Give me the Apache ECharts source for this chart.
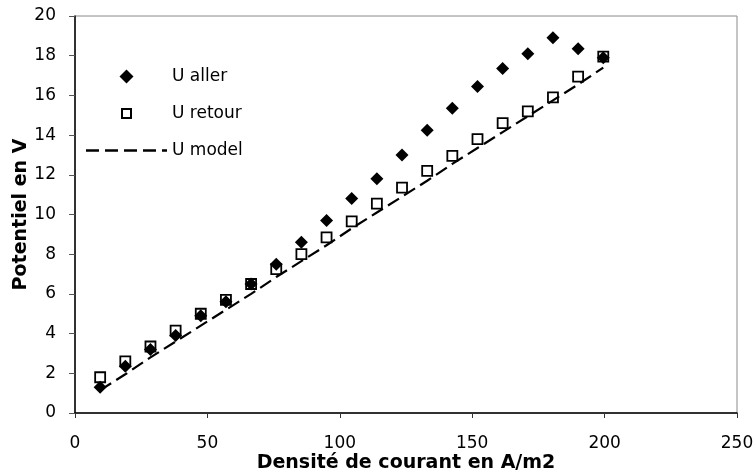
<!DOCTYPE html>
<html>
<head>
<meta charset="utf-8">
<script src="https://cdn.jsdelivr.net/npm/echarts@6/dist/echarts.min.js"></script>
<style>
  html, body { margin: 0; padding: 0; background: #fff; }
  #chart { width: 754px; height: 474px; }
</style>
</head>
<body>
<div id="chart"></div>
<script>
// Current density (A/m2)
const density = [9.5, 19, 28.5, 38, 47.5, 57, 66.5, 76, 85.5, 95, 104.5, 114, 123.5, 133, 142.5, 152, 161.5, 171, 180.5, 190, 199.5];
// Measured potential, increasing current (V)
const uAller = [1.3, 2.35, 3.2, 3.9, 4.9, 5.6, 6.5, 7.5, 8.6, 9.7, 10.8, 11.8, 13.0, 14.25, 15.35, 16.45, 17.35, 18.1, 18.9, 18.35, 17.9];
// Measured potential, decreasing current (V)
const uRetour = [1.8, 2.6, 3.35, 4.15, 5.0, 5.7, 6.5, 7.25, 8.0, 8.85, 9.65, 10.55, 11.35, 12.2, 12.95, 13.8, 14.6, 15.2, 15.9, 16.95, 17.95];
// Model potential (V)
const uModel = [1.15, 1.95, 2.8, 3.6, 4.4, 5.2, 6.0, 6.85, 7.65, 8.45, 9.3, 10.1, 10.9, 11.7, 12.55, 13.35, 14.15, 14.95, 15.75, 16.55, 17.4];

const seriesNames = ['U aller', 'U retour', 'U model'];
const xTitle = 'Densité de courant en A/m2';
const yTitle = 'Potentiel en V';

const pairs = (xs, ys) => xs.map((x, i) => [x, ys[i]]);
const FONT = 'DejaVu Sans';

// Legend icons, padded inside their boxes so they keep their own size
const ICON_DIAMOND = 'path://M0,7 L7,0 L14,7 L7,14 Z';
const ICON_SQUARE = 'path://M0,0 L0,0 M14,14 L14,14 M2.5,2.5 L11.5,2.5 L11.5,11.5 L2.5,11.5 Z';
const ICON_DASH = 'path://M0,0 L13,0 L13,2.5 L0,2.5 Z M19,0 L32,0 L32,2.5 L19,2.5 Z M38,0 L51,0 L51,2.5 L38,2.5 Z M57,0 L70,0 L70,2.5 L57,2.5 Z M76,0 L81,0 L81,2.5 L76,2.5 Z';

const chart = echarts.init(document.getElementById('chart'));
chart.setOption({
  animation: false,
  backgroundColor: '#fff',
  grid: {
    left: 75, right: 17, top: 16, bottom: 61,
    containLabel: false, outerBoundsMode: 'none',
    show: true, borderColor: '#8a8a8a', borderWidth: 1
  },
  legend: {
    orient: 'vertical',
    left: 81, top: 63,
    itemWidth: 81, itemHeight: 14, itemGap: 20,
    symbolKeepAspect: true,
    textStyle: { fontFamily: FONT, fontSize: 17, color: '#000' },
    data: [
      { name: seriesNames[0], icon: ICON_DIAMOND },
      { name: seriesNames[1], icon: ICON_SQUARE },
      { name: seriesNames[2], icon: ICON_DASH, itemStyle: { color: '#000', borderWidth: 0 } }
    ]
  },
  xAxis: {
    type: 'value', min: 0, max: 250, interval: 50,
    name: xTitle, nameLocation: 'middle', nameGap: 41, nameMoveOverlap: false,
    nameTextStyle: { fontFamily: FONT, fontSize: 19, fontWeight: 'bold', color: '#000' },
    axisLine: { show: true, lineStyle: { color: '#000', width: 1.5 } },
    axisTick: { show: true, inside: false, length: 5, lineStyle: { color: '#333' } },
    axisLabel: { margin: 22, fontFamily: FONT, fontSize: 17, color: '#000' },
    splitLine: { show: false }
  },
  yAxis: {
    type: 'value', min: 0, max: 20, interval: 2,
    name: yTitle, nameLocation: 'middle', nameGap: 44, nameMoveOverlap: false,
    nameTextStyle: { fontFamily: FONT, fontSize: 19, fontWeight: 'bold', color: '#000' },
    axisLine: { show: true, lineStyle: { color: '#000', width: 1.5 } },
    axisTick: { show: true, inside: false, length: 6, lineStyle: { color: '#555' } },
    axisLabel: { margin: 19, fontFamily: FONT, fontSize: 17, color: '#000' },
    splitLine: { show: false }
  },
  series: [
    {
      name: seriesNames[1], type: 'scatter',
      data: pairs(density, uRetour),
      symbol: 'rect', symbolSize: 10,
      itemStyle: { color: '#fff', borderColor: '#000', borderWidth: 1.8, opacity: 1 }
    },
    {
      name: seriesNames[0], type: 'scatter',
      data: pairs(density, uAller),
      symbol: 'diamond', symbolSize: 13,
      itemStyle: { color: '#000', opacity: 1 }
    },
    {
      name: seriesNames[2], type: 'line',
      data: pairs(density, uModel),
      symbol: 'none', showSymbol: false,
      lineStyle: { color: '#000', width: 2.2, type: [13, 6] },
      itemStyle: { color: '#000' }
    }
  ]
});
</script>
</body>
</html>
